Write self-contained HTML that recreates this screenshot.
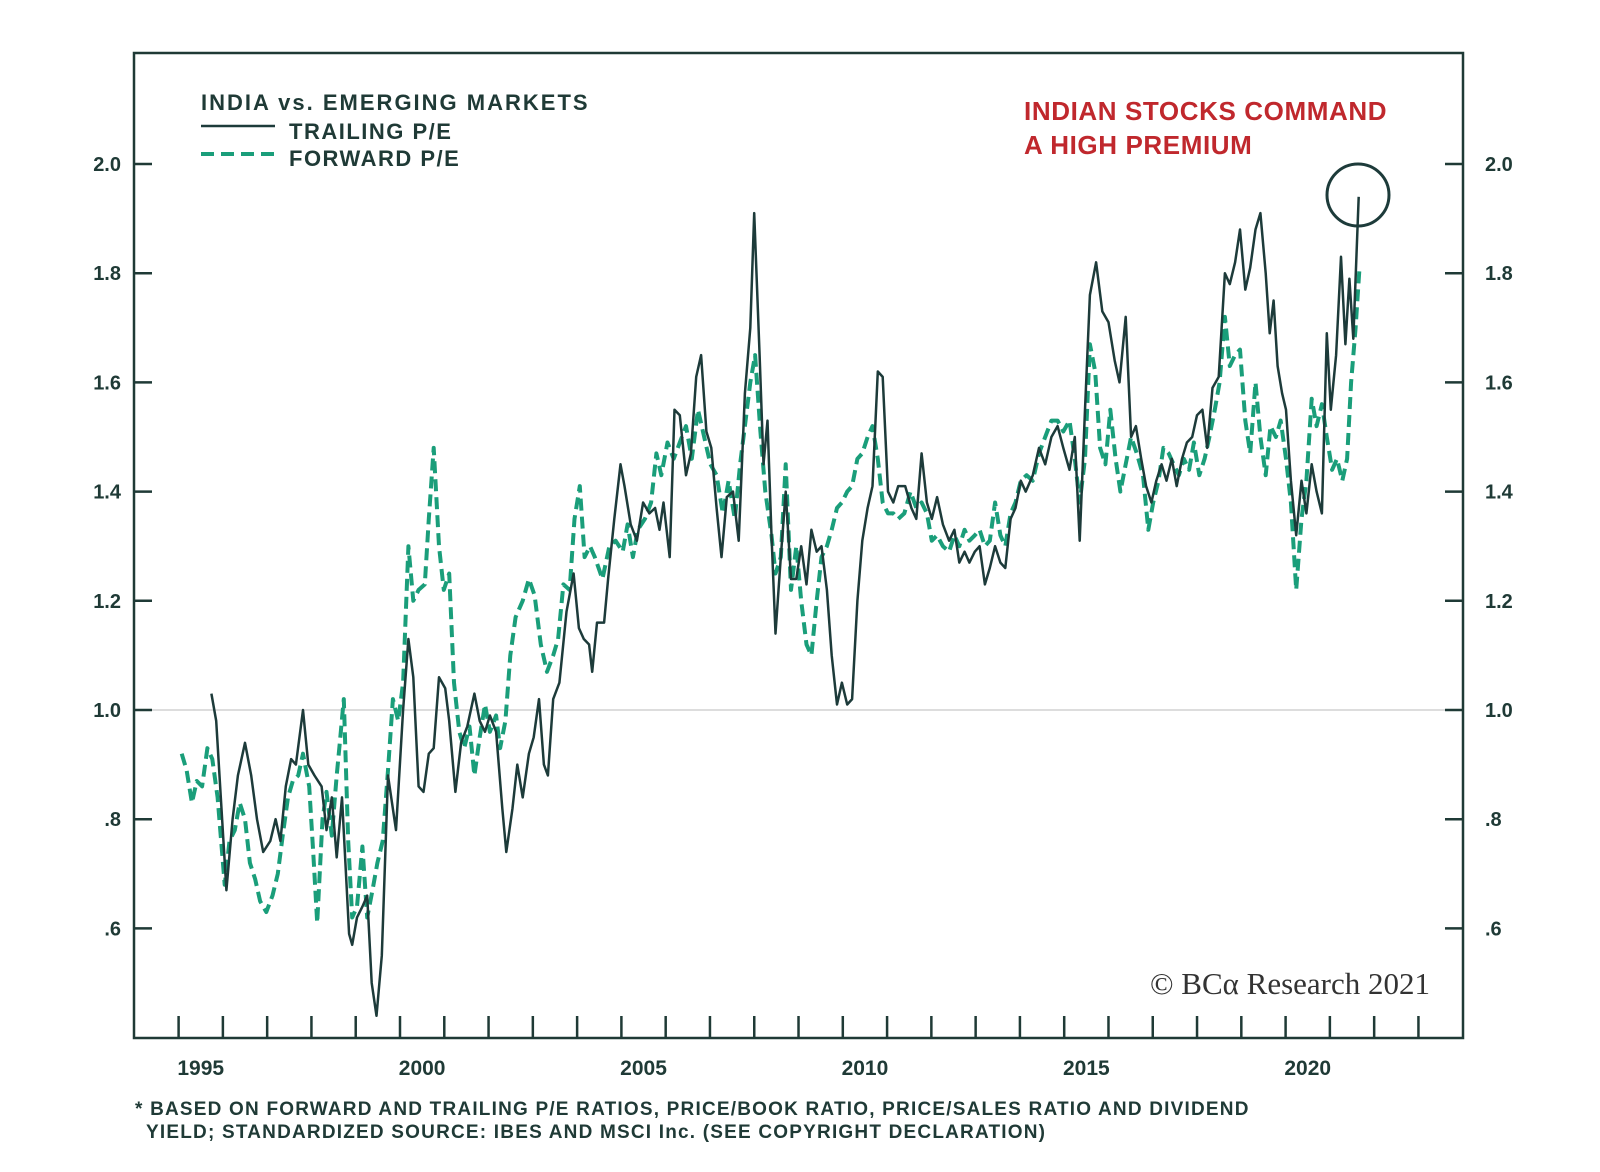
<!DOCTYPE html>
<html><head><meta charset="utf-8"><style>
body{margin:0;background:#fff;}
svg{display:block;font-family:"Liberation Sans",sans-serif;}
</style></head><body>
<svg id="chart" width="1600" height="1172" viewBox="0 0 1600 1172">
<rect x="0" y="0" width="1600" height="1172" fill="#fff"/>
<g id="grid"></g>
<g id="series"></g>
<rect x="134" y="53" width="1329" height="985" fill="none" stroke="#1f3a36" stroke-width="2.5"/>
<g id="axes"></g>
<g>
<text x="201" y="110" font-size="22" font-weight="bold" letter-spacing="2" fill="#1f3a36">INDIA vs. EMERGING MARKETS</text>
<line x1="201" y1="126" x2="275" y2="126" stroke="#1d3b3a" stroke-width="2.5"/>
<text x="289" y="139" font-size="22" font-weight="bold" letter-spacing="1.5" fill="#1f3a36">TRAILING P/E</text>
<line x1="201" y1="154" x2="275" y2="154" stroke="#1a9e7a" stroke-width="4" stroke-dasharray="13 7"/>
<text x="289" y="166" font-size="22" font-weight="bold" letter-spacing="1.5" fill="#1f3a36">FORWARD P/E</text>
</g>
<text x="1024" y="120" font-size="26" font-weight="bold" letter-spacing="0.6" fill="#c0282d">INDIAN STOCKS COMMAND</text>
<text x="1024" y="154" font-size="26" font-weight="bold" letter-spacing="0.6" fill="#c0282d">A HIGH PREMIUM</text>
<circle cx="1358" cy="195" r="31" fill="none" stroke="#1d3b3a" stroke-width="3"/>
<text x="1430" y="994" text-anchor="end" font-size="31" fill="#333" font-family="Liberation Serif,serif">© BCα Research 2021</text>
<text x="135" y="1115" font-size="19" font-weight="bold" letter-spacing="1.2" fill="#1f3a36">* BASED ON FORWARD AND TRAILING P/E RATIOS, PRICE/BOOK RATIO, PRICE/SALES RATIO AND DIVIDEND</text>
<text x="146" y="1138" font-size="19" font-weight="bold" letter-spacing="1.2" fill="#1f3a36">YIELD; STANDARDIZED SOURCE: IBES AND MSCI Inc. (SEE COPYRIGHT DECLARATION)</text>
</svg>
<script>
const yTicks=[0.6,0.8,1.0,1.2,1.4,1.6,1.8,2.0];
const yTickLabels=[".6",".8","1.0","1.2","1.4","1.6","1.8","2.0"];
const xYearLabels=[1995,2000,2005,2010,2015,2020];
const trailingDates=[0.74,0.85,1.08,1.22,1.34,1.50,1.64,1.77,1.91,2.07,2.19,2.30,2.42,2.54,2.65,2.81,2.93,3.07,3.23,3.34,3.46,3.57,3.69,3.85,3.92,4.03,4.15,4.26,4.36,4.47,4.59,4.73,4.91,5.07,5.19,5.30,5.42,5.53,5.65,5.76,5.88,6.02,6.11,6.25,6.38,6.52,6.68,6.80,6.92,7.03,7.17,7.31,7.40,7.54,7.65,7.77,7.91,8.02,8.14,8.25,8.34,8.46,8.60,8.76,8.92,9.04,9.15,9.27,9.34,9.45,9.61,9.70,9.84,9.98,10.07,10.21,10.35,10.49,10.63,10.76,10.86,10.95,11.09,11.20,11.32,11.46,11.57,11.69,11.80,11.92,12.03,12.15,12.26,12.38,12.52,12.65,12.79,12.91,13.00,13.12,13.21,13.30,13.39,13.48,13.60,13.71,13.83,13.95,14.06,14.18,14.29,14.41,14.52,14.64,14.75,14.87,14.98,15.10,15.21,15.33,15.44,15.56,15.67,15.79,15.90,16.02,16.14,16.25,16.41,16.55,16.66,16.78,16.90,17.01,17.13,17.26,17.40,17.52,17.63,17.75,17.86,17.98,18.09,18.21,18.32,18.44,18.56,18.67,18.79,18.90,19.02,19.13,19.29,19.43,19.57,19.71,19.85,19.98,20.12,20.24,20.35,20.47,20.58,20.72,20.86,21.00,21.14,21.25,21.39,21.51,21.62,21.74,21.85,21.97,22.08,22.20,22.31,22.43,22.54,22.66,22.77,22.89,23.00,23.12,23.23,23.35,23.49,23.63,23.74,23.86,23.97,24.09,24.20,24.32,24.43,24.55,24.64,24.73,24.82,24.92,25.01,25.12,25.24,25.36,25.47,25.59,25.70,25.82,25.93,26.02,26.14,26.25,26.35,26.44,26.53,26.65];
const trailing=[1.03,0.98,0.67,0.80,0.88,0.94,0.88,0.80,0.74,0.76,0.80,0.76,0.86,0.91,0.90,1.00,0.90,0.88,0.86,0.78,0.84,0.73,0.84,0.59,0.57,0.62,0.64,0.66,0.50,0.44,0.55,0.88,0.78,1.00,1.13,1.06,0.86,0.85,0.92,0.93,1.06,1.04,0.98,0.85,0.94,0.97,1.03,0.98,0.96,0.99,0.96,0.82,0.74,0.82,0.90,0.84,0.92,0.95,1.02,0.90,0.88,1.02,1.05,1.18,1.25,1.15,1.13,1.12,1.07,1.16,1.16,1.24,1.35,1.45,1.41,1.34,1.31,1.38,1.36,1.37,1.33,1.38,1.28,1.55,1.54,1.43,1.47,1.61,1.65,1.51,1.48,1.37,1.28,1.39,1.40,1.31,1.58,1.70,1.91,1.65,1.45,1.53,1.32,1.14,1.28,1.40,1.24,1.24,1.30,1.23,1.33,1.29,1.30,1.22,1.10,1.01,1.05,1.01,1.02,1.20,1.31,1.37,1.41,1.62,1.61,1.40,1.38,1.41,1.41,1.37,1.35,1.47,1.38,1.35,1.39,1.34,1.31,1.33,1.27,1.29,1.27,1.29,1.30,1.23,1.26,1.30,1.27,1.26,1.35,1.37,1.42,1.40,1.43,1.48,1.45,1.50,1.52,1.48,1.44,1.50,1.31,1.55,1.76,1.82,1.73,1.71,1.64,1.60,1.72,1.50,1.52,1.46,1.41,1.38,1.42,1.45,1.42,1.46,1.41,1.46,1.49,1.50,1.54,1.55,1.48,1.59,1.61,1.80,1.78,1.82,1.88,1.77,1.81,1.88,1.91,1.80,1.69,1.75,1.63,1.58,1.55,1.42,1.32,1.42,1.36,1.45,1.40,1.36,1.69,1.55,1.65,1.83,1.67,1.79,1.68,1.94];
const forwardDates=[0.07,0.18,0.30,0.41,0.53,0.65,0.76,0.88,1.04,1.15,1.27,1.38,1.50,1.61,1.73,1.84,1.98,2.12,2.24,2.35,2.47,2.58,2.70,2.81,2.95,3.04,3.13,3.25,3.34,3.46,3.57,3.64,3.73,3.83,3.92,4.03,4.15,4.26,4.38,4.49,4.61,4.73,4.84,4.96,5.07,5.19,5.30,5.42,5.56,5.65,5.76,5.88,5.99,6.11,6.22,6.34,6.45,6.57,6.68,6.80,6.92,7.03,7.17,7.26,7.38,7.49,7.61,7.77,7.91,8.04,8.18,8.32,8.46,8.57,8.69,8.83,8.94,9.06,9.17,9.29,9.40,9.57,9.73,9.87,10.03,10.14,10.26,10.37,10.53,10.67,10.79,10.90,11.04,11.18,11.32,11.46,11.59,11.73,11.87,12.01,12.15,12.29,12.42,12.56,12.68,12.79,12.91,13.02,13.14,13.25,13.39,13.48,13.60,13.71,13.83,13.95,14.06,14.18,14.29,14.41,14.52,14.64,14.75,14.87,14.98,15.10,15.21,15.33,15.44,15.56,15.67,15.79,15.90,16.02,16.14,16.25,16.39,16.53,16.66,16.78,16.90,17.01,17.13,17.26,17.40,17.52,17.63,17.75,17.86,17.98,18.09,18.21,18.32,18.44,18.56,18.67,18.79,18.90,19.02,19.15,19.29,19.43,19.57,19.71,19.85,19.98,20.12,20.24,20.35,20.47,20.58,20.70,20.81,20.93,21.04,21.16,21.27,21.39,21.51,21.64,21.78,21.90,22.01,22.13,22.24,22.36,22.47,22.59,22.70,22.82,22.93,23.05,23.17,23.28,23.40,23.51,23.63,23.74,23.86,23.97,24.09,24.20,24.32,24.43,24.55,24.66,24.78,24.89,25.01,25.12,25.24,25.36,25.47,25.59,25.70,25.82,25.93,26.05,26.16,26.28,26.39,26.48,26.58,26.67];
const forward=[0.92,0.89,0.83,0.87,0.86,0.93,0.91,0.84,0.68,0.76,0.78,0.83,0.80,0.72,0.69,0.65,0.63,0.66,0.70,0.77,0.84,0.87,0.88,0.92,0.86,0.74,0.61,0.80,0.85,0.77,0.88,0.94,1.02,0.76,0.62,0.64,0.75,0.62,0.67,0.72,0.76,0.89,1.02,0.98,1.05,1.30,1.20,1.22,1.23,1.35,1.48,1.30,1.22,1.25,1.05,0.96,0.93,0.97,0.88,0.95,1.01,0.96,0.99,0.93,0.98,1.10,1.17,1.20,1.24,1.21,1.12,1.07,1.10,1.13,1.23,1.22,1.35,1.41,1.28,1.30,1.28,1.24,1.30,1.31,1.29,1.34,1.28,1.33,1.35,1.38,1.47,1.43,1.49,1.46,1.49,1.52,1.46,1.55,1.50,1.45,1.43,1.36,1.42,1.35,1.45,1.52,1.60,1.65,1.51,1.40,1.32,1.25,1.28,1.45,1.22,1.30,1.20,1.12,1.10,1.20,1.28,1.30,1.33,1.37,1.38,1.40,1.41,1.46,1.47,1.50,1.52,1.46,1.38,1.36,1.36,1.35,1.36,1.40,1.37,1.38,1.36,1.31,1.32,1.30,1.29,1.32,1.30,1.33,1.31,1.32,1.33,1.30,1.31,1.38,1.32,1.30,1.36,1.38,1.42,1.43,1.42,1.47,1.50,1.53,1.53,1.51,1.53,1.46,1.38,1.46,1.67,1.62,1.48,1.45,1.55,1.46,1.40,1.45,1.50,1.47,1.43,1.33,1.38,1.42,1.48,1.47,1.45,1.43,1.46,1.44,1.49,1.43,1.46,1.50,1.55,1.60,1.72,1.63,1.65,1.66,1.53,1.47,1.60,1.50,1.43,1.52,1.50,1.53,1.46,1.38,1.22,1.35,1.42,1.57,1.52,1.56,1.50,1.44,1.46,1.42,1.46,1.60,1.70,1.81];

const NS="http://www.w3.org/2000/svg";
function xScale(yearsSince1995){return 178.6+yearsSince1995*44.28;}
function yScale(v){return 710-(v-1)*546;}
function mk(tag,attrs,parent){const e=document.createElementNS(NS,tag);for(const k in attrs)e.setAttribute(k,attrs[k]);parent.appendChild(e);return e;}
const grid=document.getElementById('grid'),axes=document.getElementById('axes'),series=document.getElementById('series');
const gl=mk('line',{x1:134,x2:1463,y1:yScale(1),y2:yScale(1),stroke:'#bbb','stroke-width':1},grid);


yTicks.forEach((v,i)=>{
  const y=yScale(v);
  const a=mk('line',{x1:134,x2:152,y1:y,y2:y,stroke:'#1f3a36','stroke-width':2.5},axes);
  
  
  const b=mk('line',{x1:1445,x2:1463,y1:y,y2:y,stroke:'#1f3a36','stroke-width':2.5},axes);
  
  
  const t1=mk('text',{x:121,y:y+7,'text-anchor':'end','font-size':20,'font-weight':'bold',fill:'#1f3a36'},axes);
  t1.textContent=yTickLabels[i];
  
  
  const t2=mk('text',{x:1485,y:y+7,'font-size':20,'font-weight':'bold',fill:'#1f3a36'},axes);
  t2.textContent=yTickLabels[i];
  
  
});
for(let k=0;k<=28;k++){
  const x=xScale(k);
  const tk=mk('line',{x1:x,x2:x,y1:1016,y2:1038,stroke:'#1f3a36','stroke-width':2.5},axes);
  
  
}
xYearLabels.forEach(yr=>{
  const t=mk('text',{x:xScale(yr-1995+0.5),y:1075,'text-anchor':'middle','font-size':21,'font-weight':'bold',fill:'#1f3a36'},axes);
  t.textContent=String(yr);
  
  
});
function path(dates,vals){
  const n=Math.min(dates.length,vals.length);
  let d='';
  for(let i=0;i<n;i++)d+=(i?'L':'M')+xScale(dates[i]).toFixed(1)+','+yScale(vals[i]).toFixed(1)+' ';
  return d;
}
const pf=mk('path',{d:path(forwardDates,forward),fill:'none',stroke:'#1a9e7a','stroke-width':4,'stroke-dasharray':'12 6','stroke-linejoin':'round'},series);


const pt=mk('path',{d:path(trailingDates,trailing),fill:'none',stroke:'#1d3b3a','stroke-width':2.5,'stroke-linejoin':'round'},series);


</script>
</body></html>
